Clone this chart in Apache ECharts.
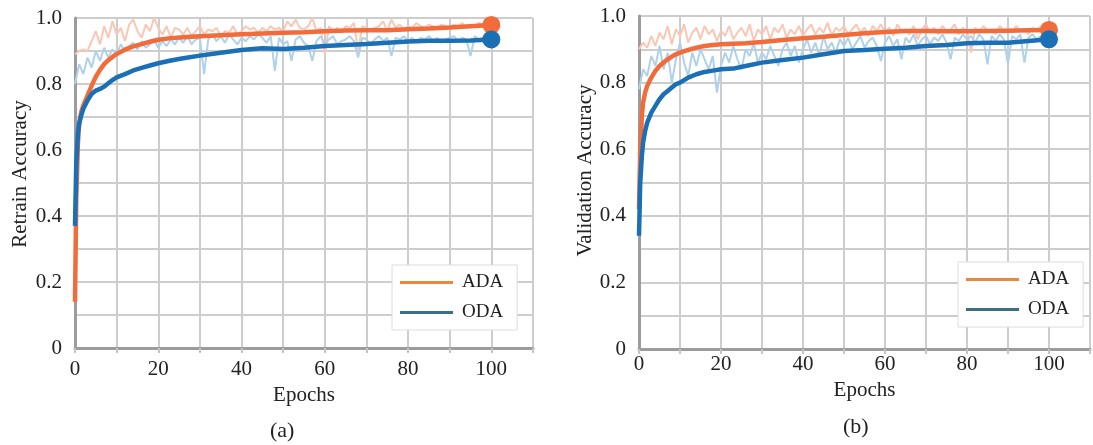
<!DOCTYPE html>
<html>
<head>
<meta charset="utf-8">
<script src="https://cdn.jsdelivr.net/npm/echarts@6/dist/echarts.min.js"></script>
<style>
  html, body { margin: 0; padding: 0; background: #fff; }
  #main { width: 1093px; height: 445px; }
</style>
</head>
<body>
<div id="main"></div>
<script>
var chartDom = document.getElementById('main');
var myChart = echarts.init(chartDom);

// epochs for the smoothed curves
const smoothEpochs = [0, 0.3, 0.7, 1, 1.5, 2, 3, 4, 5, 6, 7, 8, 9, 10, 12, 14, 16, 18, 20, 23, 26, 30, 35, 40, 45, 50, 55, 60, 65, 70, 75, 80, 85, 90, 95, 100];

// (a) retrain accuracy, smoothed
const adaSmoothA = [0.14, 0.45, 0.62, 0.68, 0.715, 0.735, 0.765, 0.795, 0.822, 0.843, 0.86, 0.872, 0.882, 0.891, 0.904, 0.914, 0.921, 0.928, 0.934, 0.939, 0.942, 0.945, 0.948, 0.951, 0.953, 0.955, 0.957, 0.960, 0.962, 0.963, 0.963, 0.966, 0.968, 0.971, 0.975, 0.979];
const odaSmoothA = [0.37, 0.56, 0.65, 0.68, 0.705, 0.725, 0.75, 0.77, 0.78, 0.785, 0.792, 0.802, 0.812, 0.82, 0.83, 0.841, 0.849, 0.856, 0.863, 0.871, 0.878, 0.886, 0.895, 0.903, 0.908, 0.906, 0.91, 0.915, 0.918, 0.921, 0.925, 0.929, 0.931, 0.931, 0.932, 0.935];

// (a) raw values, one per epoch 0..100
const adaRawA = [0.89, 0.90, 0.905, 0.90, 0.93, 0.96, 0.92, 0.975, 0.94, 0.99, 0.95, 0.97, 0.93, 0.98, 0.995, 0.96, 0.94, 0.98, 0.96, 1.0,
  0.97, 0.95, 0.975, 0.94, 0.97, 0.965, 0.95, 0.97, 0.945, 0.96, 0.975, 0.95, 0.965, 0.96, 0.97, 0.945, 0.96, 0.955, 0.975, 0.95,
  0.96, 0.975, 0.965, 0.97, 0.955, 0.97, 0.96, 0.975, 0.965, 0.97, 0.96, 0.99, 0.975, 0.995, 0.97, 0.965, 0.975, 1.0, 0.96, 0.97,
  0.89, 0.975, 0.96, 0.97, 0.955, 0.975, 0.97, 0.985, 0.90, 0.975, 0.97, 0.965, 0.97, 0.975, 0.99, 0.96, 0.995, 0.97, 0.98, 0.965,
  0.975, 0.97, 0.985, 0.975, 0.97, 0.98, 0.975, 0.97, 0.98, 0.975, 0.97, 0.98, 0.975, 0.985, 0.97, 0.98, 0.975, 0.985, 0.98, 0.975, 0.98];
const odaRawA = [0.80, 0.86, 0.83, 0.88, 0.85, 0.90, 0.87, 0.91, 0.88, 0.905, 0.89, 0.92, 0.90, 0.915, 0.925, 0.905, 0.93, 0.91, 0.92, 0.935,
  0.91, 0.93, 0.915, 0.935, 0.92, 0.94, 0.925, 0.945, 0.92, 0.935, 0.94, 0.83, 0.935, 0.95, 0.93, 0.945, 0.925, 0.95, 0.935, 0.92,
  0.94, 0.93, 0.945, 0.935, 0.95, 0.94, 0.925, 0.945, 0.84, 0.94, 0.92, 0.93, 0.87, 0.935, 0.945, 0.925, 0.915, 0.87, 0.93, 0.945,
  0.92, 0.935, 0.945, 0.92, 0.93, 0.935, 0.945, 0.93, 0.88, 0.94, 0.935, 0.92, 0.935, 0.945, 0.93, 0.94, 0.885, 0.94, 0.935, 0.945,
  0.93, 0.94, 0.925, 0.94, 0.935, 0.945, 0.93, 0.94, 0.925, 0.935, 0.94, 0.945, 0.93, 0.94, 0.935, 0.885, 0.945, 0.935, 0.94, 0.93, 0.935];

// (b) validation accuracy, smoothed
const adaSmoothB = [0.42, 0.60, 0.70, 0.74, 0.77, 0.79, 0.815, 0.835, 0.85, 0.86, 0.87, 0.878, 0.885, 0.89, 0.898, 0.905, 0.91, 0.913, 0.915, 0.917, 0.918, 0.922, 0.928, 0.933, 0.938, 0.943, 0.948, 0.952, 0.955, 0.955, 0.954, 0.954, 0.955, 0.956, 0.957, 0.958];
const odaSmoothB = [0.34, 0.50, 0.58, 0.62, 0.655, 0.68, 0.71, 0.73, 0.75, 0.765, 0.775, 0.785, 0.795, 0.80, 0.815, 0.825, 0.832, 0.836, 0.84, 0.842, 0.85, 0.86, 0.868, 0.875, 0.885, 0.895, 0.898, 0.902, 0.905, 0.91, 0.913, 0.918, 0.92, 0.92, 0.925, 0.93];

// (b) raw values, one per epoch 0..100
const adaRawB = [0.90, 0.92, 0.905, 0.94, 0.91, 0.95, 0.93, 0.97, 0.915, 0.96, 0.94, 0.975, 0.92, 0.95, 0.965, 0.93, 0.97, 0.945, 0.96, 0.925,
  0.955, 0.94, 0.97, 0.93, 0.95, 0.965, 0.94, 0.975, 0.925, 0.96, 0.945, 0.97, 0.93, 0.965, 0.95, 0.975, 0.935, 0.96, 0.945, 0.97,
  0.94, 0.96, 0.975, 0.945, 0.965, 0.95, 0.98, 0.94, 0.965, 0.955, 0.97, 0.945, 0.96, 0.975, 0.95, 0.965, 0.94, 0.97, 0.955, 0.975,
  0.95, 0.965, 0.94, 0.975, 0.955, 0.96, 0.945, 0.97, 0.93, 0.96, 0.975, 0.95, 0.965, 0.945, 0.97, 0.955, 0.96, 0.975, 0.945, 0.965,
  0.955, 0.89, 0.965, 0.95, 0.97, 0.955, 0.96, 0.945, 0.97, 0.955, 0.965, 0.95, 0.97, 0.955, 0.96, 0.945, 0.965, 0.955, 0.97, 0.96, 0.955];
const odaRawB = [0.78, 0.84, 0.82, 0.88, 0.85, 0.91, 0.84, 0.89, 0.80, 0.87, 0.92, 0.86, 0.82, 0.89, 0.85, 0.90, 0.87, 0.84, 0.88, 0.77,
  0.85, 0.89, 0.86, 0.91, 0.87, 0.84, 0.90, 0.88, 0.92, 0.86, 0.89, 0.87, 0.91, 0.88, 0.85, 0.90, 0.92, 0.88, 0.91, 0.86,
  0.90, 0.93, 0.89, 0.92, 0.88, 0.94, 0.90, 0.92, 0.89, 0.93, 0.91, 0.935, 0.90, 0.92, 0.94, 0.905, 0.925, 0.935, 0.91, 0.865,
  0.92, 0.94, 0.91, 0.93, 0.87, 0.935, 0.92, 0.945, 0.91, 0.93, 0.94, 0.915, 0.935, 0.925, 0.945, 0.92, 0.87, 0.935, 0.925, 0.945,
  0.93, 0.94, 0.92, 0.945, 0.93, 0.855, 0.94, 0.925, 0.945, 0.93, 0.855, 0.94, 0.93, 0.945, 0.86, 0.935, 0.945, 0.93, 0.94, 0.925, 0.935];

const xTickLabels = [0, 20, 40, 60, 80, 100];
const yTickLabels = ['0', '0.2', '0.4', '0.6', '0.8', '1.0'];

const ADA_LINE = '#f26b3a';
const ODA_LINE = '#1b6fb5';
const ADA_RAW = '#f9c7b4';
const ODA_RAW = '#afd2ea';
const FONT = 'Liberation Serif';

function pairs(xs, ys) {
    return ys.map(function (v, i) { return [xs[i], v]; });
}
function rawPairs(ys) {
    return ys.map(function (v, i) { return [i, v]; });
}

function xAxisFor(idx, margin, gap) {
    return {
        gridIndex: idx,
        type: 'value',
        min: 0,
        max: 110,
        interval: 10,
        name: 'Epochs',
        nameLocation: 'middle',
        nameGap: gap,
        nameTextStyle: { fontFamily: FONT, fontSize: 21, color: '#222' },
        axisLine: { lineStyle: { color: '#9c9c9c', width: 3 } },
        axisTick: { show: true, length: 5, lineStyle: { color: '#c4c4c4', width: 2 } },
        splitLine: { lineStyle: { color: '#cdcdcd', width: 2 } },
        axisLabel: {
            margin: margin,
            fontFamily: FONT, fontSize: 21, color: '#222',
            formatter: function (v) {
                return xTickLabels.indexOf(Math.round(v)) >= 0 && Math.abs(v - Math.round(v)) < 1e-6 ? String(Math.round(v)) : '';
            }
        }
    };
}

function yAxisFor(idx, name, gap, pad) {
    return {
        gridIndex: idx,
        type: 'value',
        min: 0,
        max: 1,
        interval: 0.1,
        name: name,
        nameLocation: 'middle',
        nameGap: gap,
        nameTextStyle: { fontFamily: FONT, fontSize: 21, color: '#222', padding: [0, 0, 0, pad] },
        axisLine: { show: true, lineStyle: { color: '#9c9c9c', width: 3 } },
        axisTick: { show: false },
        splitLine: { lineStyle: { color: '#cdcdcd', width: 2 } },
        axisLabel: {
            margin: 13,
            fontFamily: FONT, fontSize: 21, color: '#222',
            formatter: function (v) {
                var k = Math.round(v * 10);
                return k % 2 === 0 ? yTickLabels[k / 2] : '';
            }
        }
    };
}

function rawSeries(name, idx, ys, color) {
    return {
        name: name, type: 'line', xAxisIndex: idx, yAxisIndex: idx,
        data: rawPairs(ys), showSymbol: false, silent: true, z: 1,
        lineStyle: { color: color, width: 2 }, itemStyle: { color: color }
    };
}
function smoothSeries(name, idx, ys, color) {
    return {
        name: name, type: 'line', xAxisIndex: idx, yAxisIndex: idx,
        data: pairs(smoothEpochs, ys), showSymbol: false, silent: true, z: 3,
        lineStyle: { color: color, width: 4.5 }, itemStyle: { color: color }
    };
}
function endDot(name, idx, ys, color) {
    var last = ys.length - 1;
    return {
        name: name, type: 'scatter', xAxisIndex: idx, yAxisIndex: idx,
        data: [[smoothEpochs[last], ys[last]]], symbolSize: 18, silent: true, z: 4,
        itemStyle: { color: color, opacity: 1 }
    };
}

function legendAt(left, top) {
    return {
        left: left, top: top, orient: 'vertical',
        backgroundColor: '#fff', borderColor: '#dcdcdc', borderWidth: 1,
        padding: [8, 14, 8, 8], itemGap: 11,
        icon: 'rect', itemWidth: 53, itemHeight: 3,
        textStyle: { fontFamily: FONT, fontSize: 19, color: '#222', padding: [0, 0, 0, 4] },
        selectedMode: false,
        data: [
            { name: 'ADA', itemStyle: { color: '#e8893e' } },
            { name: 'ODA', itemStyle: { color: '#3c6f84' } }
        ]
    };
}

let option = {
    animation: false,
    backgroundColor: '#fff',
    title: [
        { text: '(a)', left: 270, top: 420, padding: 0, textStyle: { fontFamily: FONT, fontSize: 22, fontWeight: 'normal', color: '#222' } },
        { text: '(b)', left: 843, top: 416, padding: 0, textStyle: { fontFamily: FONT, fontSize: 22, fontWeight: 'normal', color: '#222' } }
    ],
    legend: [legendAt(392, 265), legendAt(958, 262)],
    grid: [
        { left: 75, top: 18, width: 458, height: 330 },
        { left: 639, top: 16, width: 459, height: 333 }
    ],
    xAxis: [xAxisFor(0, 11, 33), xAxisFor(1, 5, 18)],
    yAxis: [yAxisFor(0, 'Retrain Accuracy', 44, 18), yAxisFor(1, 'Validation Accuracy', 41, 24)],
    series: [
        rawSeries('ADA raw a', 0, adaRawA, ADA_RAW),
        rawSeries('ODA raw a', 0, odaRawA, ODA_RAW),
        smoothSeries('ADA', 0, adaSmoothA, ADA_LINE),
        smoothSeries('ODA', 0, odaSmoothA, ODA_LINE),
        endDot('ADA end a', 0, adaSmoothA, ADA_LINE),
        endDot('ODA end a', 0, odaSmoothA, ODA_LINE),

        rawSeries('ADA raw b', 1, adaRawB, ADA_RAW),
        rawSeries('ODA raw b', 1, odaRawB, ODA_RAW),
        smoothSeries('ADA', 1, adaSmoothB, ADA_LINE),
        smoothSeries('ODA', 1, odaSmoothB, ODA_LINE),
        endDot('ADA end b', 1, adaSmoothB, ADA_LINE),
        endDot('ODA end b', 1, odaSmoothB, ODA_LINE)
    ]
};

option && myChart.setOption(option);
</script>
</body>
</html>
